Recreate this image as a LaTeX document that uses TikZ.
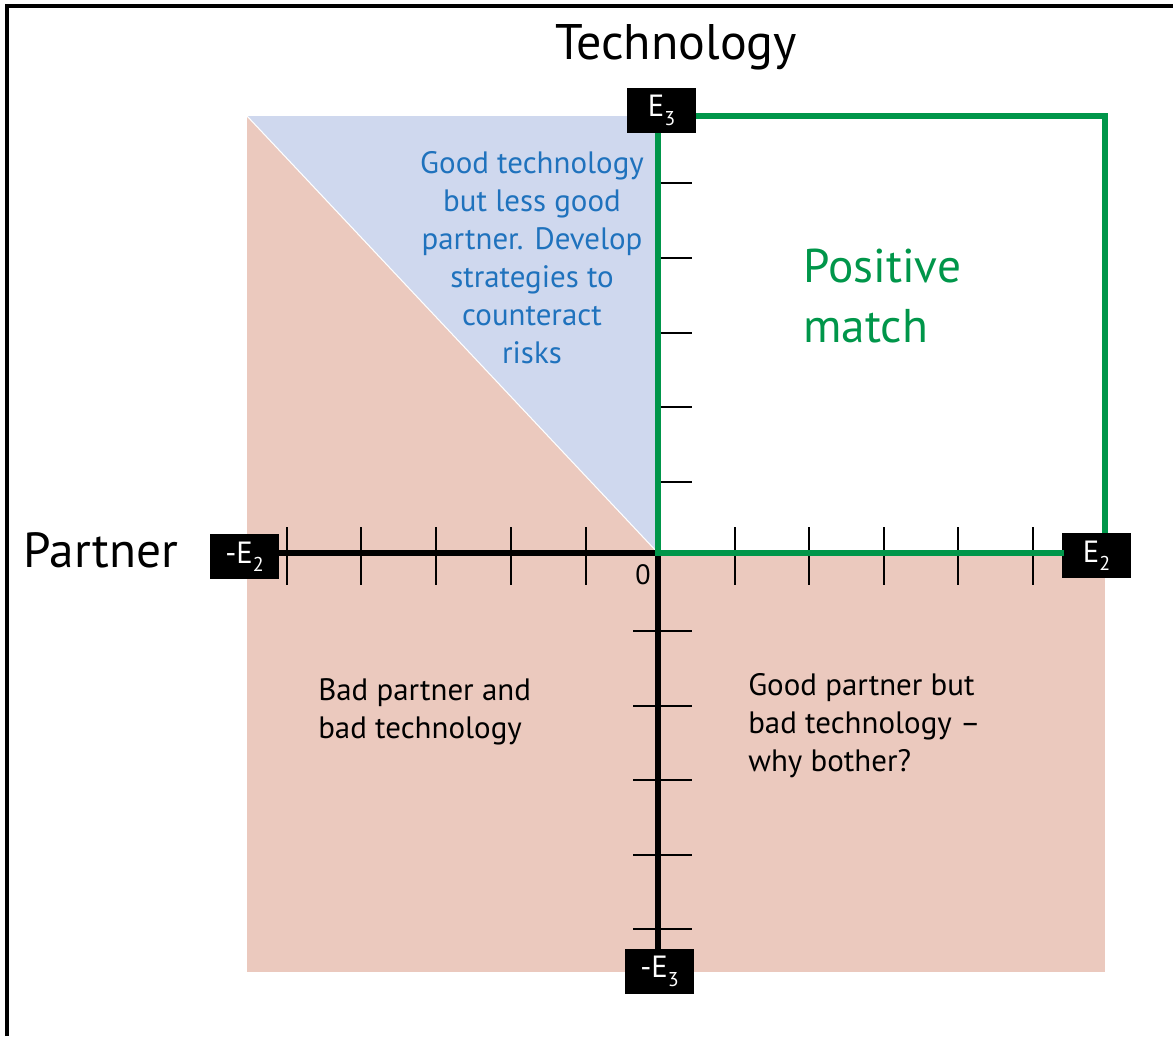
\documentclass[tikz,border=0pt]{standalone}
\usepackage{fontspec}
\setmainfont{PT Sans}
\definecolor{pinkfill}{HTML}{EBC9BE}
\definecolor{bluefill}{HTML}{CFD8EE}
\definecolor{posgreen}{HTML}{00964A}
\definecolor{textblue}{HTML}{1F72BD}
\newcommand{\sbs}[1]{\raisebox{-0.55ex}{\fontsize{15}{15}\selectfont #1}}
\begin{document}
\begin{tikzpicture}[x=0.75pt,y=-0.75pt,
  tick/.style={line width=1.1pt,black},
  axis/.style={line width=4pt,black},
  gline/.style={line width=3.8pt,posgreen},
  endlbl/.style={fill=black,text=white,minimum width=51.75pt,minimum height=33.75pt,inner sep=0pt,font=\fontsize{23}{26}\selectfont},
  txt/.style={inner sep=0pt,font=\fontsize{23.2}{28.5}\selectfont}]
\useasboundingbox (0,0) rectangle (1173,1036);
% frame
\draw[line width=2.6pt] (7,1036) -- (7,6) -- (1173,6);
% fills
\fill[pinkfill] (247,116) rectangle (658,972);
\fill[pinkfill] (658,553) rectangle (1105,972);
\coordinate (o) at (658,553);
% upper ticks (right side only)
\foreach \y in {183,258,333,407,482} \draw[tick] (658,\y) -- (692,\y);
\fill[bluefill] (247,116) -- (658,116) -- (658,553) -- cycle;
\draw[white,line width=0.8pt] (247,116) -- (658,553);
% horizontal ticks
\foreach \x in {287,361,436,511,586,735,809,884,958,1033} \draw[tick] (\x,527) -- (\x,585);
% lower ticks
\foreach \y in {631,706,780,855,929} \draw[tick] (633,\y) -- (692,\y);
% end labels
\node[endlbl] (e3) at (661.5,110.5) {E\sbs{3}};
\node[endlbl] (me2) at (244.5,556.5) {-E\sbs{2}};
\node[endlbl] (e2) at (1096.5,555.5) {E\sbs{2}};
\node[endlbl] (me3) at (659.5,971.5) {-E\sbs{3}};
\coordinate (tr) at (1105,116);
% axes
\draw[axis] (me2.east |- o) -- (o);
\draw[axis] (o) -- (o |- me3.north);
% green rectangle
\draw[gline,line cap=rect] (o) -- (e2.west |- o);
\draw[gline] (tr |- e2.north) -- (tr) -- (e3.east |- tr);
\draw[gline] (o |- e3.south) -- (o);
% texts
\node[inner sep=0pt,font=\fontsize{37.5}{40}\selectfont] (tech) at (676,47) {Technology};
\node[inner sep=0pt,font=\fontsize{37}{40}\selectfont] (partner) at (101,550) {Partner};
\node[inner sep=0pt,font=\fontsize{21}{24}\selectfont] (zero) at (643,575) {0};
\node[txt,text=textblue,align=center] (blue) at (532,258) {Good technology\\but less good\\partner. Develop\\strategies to\\counteract\\risks};
\node[inner sep=0pt,text=posgreen,align=left,anchor=west,font=\fontsize{35.5}{45}\selectfont] (pos) at (803,296) {Positive\\match};
\node[txt,align=left,anchor=west] (bad) at (318,712) {Bad partner and\\bad technology};
\node[txt,align=left,anchor=west] (good) at (748,726) {Good partner but\\bad technology --\\why bother?};
\end{tikzpicture}
\end{document}
